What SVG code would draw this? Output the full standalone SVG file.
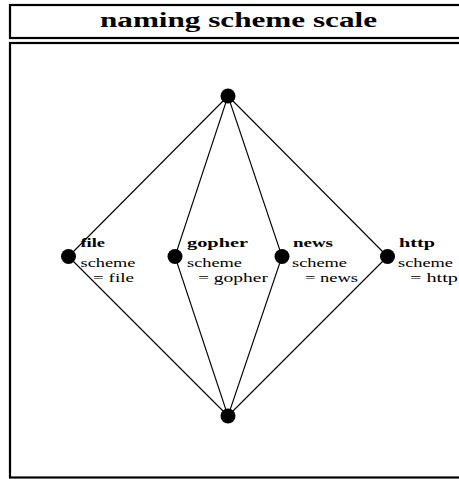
<svg xmlns="http://www.w3.org/2000/svg" width="459" height="479" viewBox="0 0 459 479">
<style>
.frame{fill:none;stroke:#000;stroke-width:2.2}
.edge{stroke:#000;stroke-width:1.1;fill:none}
.dot{fill:#000}
.title{font-family:"Liberation Serif",serif;font-weight:bold;font-size:20px;fill:#000}
.lbl{font-family:"Liberation Serif",serif;font-weight:bold;font-size:12px;fill:#000}
.txt{font-family:"Liberation Serif",serif;font-size:12px;fill:#000}
</style>
<rect width="459" height="479" fill="#fff"/>
<g id="frame">
<rect class="frame" x="10" y="5" width="470" height="33"/>
<rect class="frame" x="10" y="43" width="470" height="434.5"/>
<text class="title" x="100" y="27" textLength="277" lengthAdjust="spacingAndGlyphs">naming scheme scale</text>
</g>
<g id="connectors">
<line class="edge" x1="228" y1="96" x2="68.5" y2="256.5"/>
<line class="edge" x1="228" y1="96" x2="175" y2="256.5"/>
<line class="edge" x1="228" y1="96" x2="282" y2="256.5"/>
<line class="edge" x1="228" y1="96" x2="387.5" y2="256.5"/>
<line class="edge" x1="68.5" y1="256.5" x2="228" y2="416"/>
<line class="edge" x1="175" y1="256.5" x2="228" y2="416"/>
<line class="edge" x1="282" y1="256.5" x2="228" y2="416"/>
<line class="edge" x1="387.5" y1="256.5" x2="228" y2="416"/>
</g>
<g id="top"><circle class="dot" cx="228" cy="96" r="7.5"/></g>
<g id="bottom"><circle class="dot" cx="228" cy="416" r="7.5"/></g>
<g id="file">
<circle class="dot" cx="68.5" cy="256.5" r="7.5"/>
<text class="lbl" x="80.5" y="246.5" textLength="24.5" lengthAdjust="spacingAndGlyphs">file</text>
<text class="txt" x="80.5" y="267" textLength="55" lengthAdjust="spacingAndGlyphs">scheme</text>
<text class="txt" x="93" y="281.5" textLength="41" lengthAdjust="spacingAndGlyphs">= file</text>
</g>
<g id="gopher">
<circle class="dot" cx="175" cy="256.5" r="7.5"/>
<text class="lbl" x="187" y="246.5" textLength="61" lengthAdjust="spacingAndGlyphs">gopher</text>
<text class="txt" x="187" y="267" textLength="55" lengthAdjust="spacingAndGlyphs">scheme</text>
<text class="txt" x="198" y="281.5" textLength="70" lengthAdjust="spacingAndGlyphs">= gopher</text>
</g>
<g id="news">
<circle class="dot" cx="282" cy="256.5" r="7.5"/>
<text class="lbl" x="293" y="246.5" textLength="40" lengthAdjust="spacingAndGlyphs">news</text>
<text class="txt" x="292" y="267" textLength="55" lengthAdjust="spacingAndGlyphs">scheme</text>
<text class="txt" x="305" y="281.5" textLength="53" lengthAdjust="spacingAndGlyphs">= news</text>
</g>
<g id="http">
<circle class="dot" cx="387.5" cy="256.5" r="7.5"/>
<text class="lbl" x="399" y="246.5" textLength="36" lengthAdjust="spacingAndGlyphs">http</text>
<text class="txt" x="398" y="267" textLength="55" lengthAdjust="spacingAndGlyphs">scheme</text>
<text class="txt" x="410" y="281.5" textLength="48" lengthAdjust="spacingAndGlyphs">= http</text>
</g>
</svg>
